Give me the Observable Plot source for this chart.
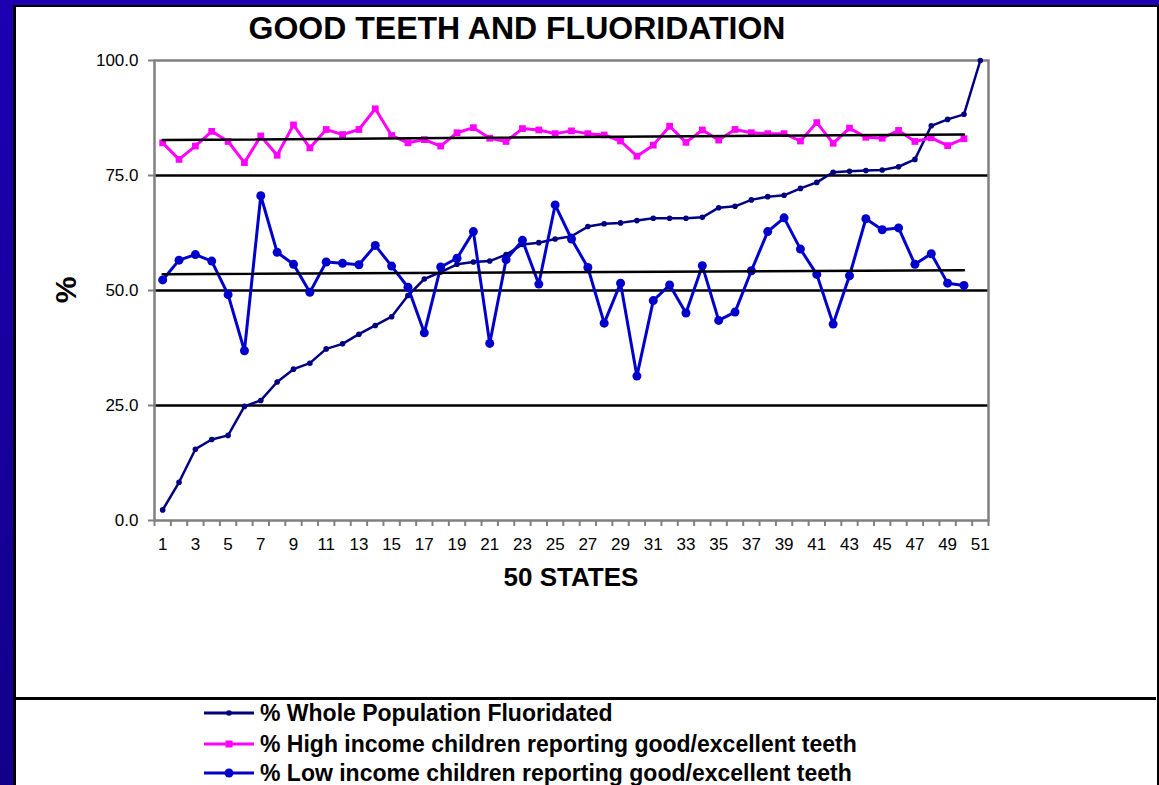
<!DOCTYPE html>
<html>
<head>
<meta charset="utf-8">
<script src="https://cdn.jsdelivr.net/npm/d3@7"></script>
<script src="https://cdn.jsdelivr.net/npm/@observablehq/plot@0.6"></script>
<style>
  html, body { margin: 0; padding: 0; }
  body {
    width: 1159px; height: 785px; overflow: hidden; position: relative;
    background: linear-gradient(to bottom, #1c00b2, #12008a);
    font-family: "Liberation Sans", Arial, sans-serif;
  }
  #panel {
    position: absolute; left: 13px; top: 5px; width: 1141px; height: 800px;
    background: #fff; border: 2px solid #000; border-left-width: 3px;
  }
  .abs { position: absolute; }
  #title { left: 217px; top: 12px; width: 600px; text-align: center; font-weight: bold; font-size: 32px; line-height: 32px; color: #000; white-space: nowrap; }
  #xtitle { left: 471px; top: 564px; width: 200px; text-align: center; font-weight: bold; font-size: 26px; line-height: 26px; color: #000; white-space: nowrap; }
  #ytitle { left: 16px; top: 275px; width: 100px; height: 30px; text-align: center; font-weight: bold; font-size: 30px; line-height: 30px; transform: rotate(-90deg); color: #000; }
  #divider { left: 16px; top: 697px; width: 1140px; height: 3px; background: #000; }
  .legrow { left: 204px; height: 24px; display: flex; align-items: center; }
  .legrow span { font-weight: bold; font-size: 23px; line-height: 24px; color: #000; margin-left: 6px; white-space: nowrap; }
  #chart { left: 16px; top: 40px; }
</style>
</head>
<body>
<div id="panel"></div>
<div id="title" class="abs">GOOD TEETH AND FLUORIDATION</div>
<div id="chart" class="abs"></div>
<div id="xtitle" class="abs">50 STATES</div>
<div id="ytitle" class="abs">%</div>
<div id="divider" class="abs"></div>
<div id="legend"></div>
<script>
// ---- data ----
const states = [1,2,3,4,5,6,7,8,9,10,11,12,13,14,15,16,17,18,19,20,21,22,23,24,25,26,27,28,29,30,31,32,33,34,35,36,37,38,39,40,41,42,43,44,45,46,47,48,49,50,51];
const fluoridated = [2.3,8.3,15.5,17.6,18.5,24.8,26.1,30.1,32.9,34.2,37.3,38.4,40.5,42.4,44.3,48.9,52.5,54.0,55.7,56.2,56.4,57.8,60.0,60.4,61.2,61.8,63.9,64.5,64.7,65.2,65.7,65.7,65.7,65.9,68.0,68.3,69.7,70.4,70.7,72.2,73.5,75.7,75.9,76.1,76.2,76.9,78.5,85.8,87.2,88.3,100.0];
const highIncome = [82.1,78.5,81.4,84.6,82.4,77.8,83.6,79.4,86.0,81.0,85.0,83.9,85.0,89.5,83.7,82.1,82.8,81.4,84.3,85.4,83.1,82.4,85.2,84.9,84.1,84.7,84.1,83.8,82.5,79.2,81.6,85.7,82.2,84.9,82.7,85.0,84.3,84.1,84.1,82.5,86.5,82.0,85.3,83.3,83.1,84.8,82.4,83.2,81.5,83.0];
const lowIncome = [52.3,56.6,57.8,56.4,49.1,36.9,70.6,58.3,55.7,49.6,56.2,55.9,55.6,59.8,55.3,50.7,40.8,55.1,57.0,62.8,38.5,56.7,60.9,51.4,68.6,61.2,55.0,42.9,51.6,31.4,47.8,51.2,45.1,55.4,43.5,45.3,54.3,62.8,65.8,59.0,53.5,42.7,53.2,65.6,63.2,63.6,55.7,58.0,51.6,51.1];
const seriesNames = ["% Whole Population Fluoridated", "% High income children reporting good/excellent teeth", "% Low income children reporting good/excellent teeth"];
const seriesColors = ["#000080", "#ff00ff", "#0000cc"];
const xTickLabels = [1,3,5,7,9,11,13,15,17,19,21,23,25,27,29,31,33,35,37,39,41,43,45,47,49,51];
const yTicks = [0,25,50,75,100];
const gridValues = [25,50,75];

const fluorData = fluoridated.map((v, i) => ({state: states[i], value: v}));
const highData = highIncome.map((v, i) => ({state: states[i], value: v}));
const lowData = lowIncome.map((v, i) => ({state: states[i], value: v}));
const boundaries = states.map(s => s - 0.5).concat([states[states.length - 1] + 0.5]);

const FONT = "'Liberation Sans', Arial, sans-serif";

const chart = Plot.plot({
  width: 1140,
  height: 560,
  marginLeft: 138,
  marginRight: 168,
  marginTop: 20,
  marginBottom: 80,
  style: {fontFamily: FONT, background: "transparent", overflow: "visible"},
  x: {domain: [0.5, 51.5], label: null},
  y: {domain: [0, 100], label: null},
  marks: [
    Plot.ruleY(gridValues, {stroke: "#000", strokeWidth: 2.5}),
    Plot.frame({stroke: "#808080", strokeWidth: 2.5}),
    Plot.axisY({ticks: yTicks, tickFormat: d => d.toFixed(1), tickSize: 6, tickPadding: 10, stroke: "#808080", strokeWidth: 2, fill: "#000", fontSize: 17, label: null}),
    Plot.axisX({ticks: boundaries, tickFormat: () => "", tickSize: 6, stroke: "#808080", strokeWidth: 2, label: null}),
    Plot.axisX({ticks: xTickLabels, tickFormat: d => String(d), tickSize: 0, tickPadding: 17, fill: "#000", fontSize: 17, label: null}),
    // fluoridated
    Plot.line(fluorData, {x: "state", y: "value", stroke: seriesColors[0], strokeWidth: 2.5}),
    Plot.dot(fluorData, {x: "state", y: "value", fill: seriesColors[0], r: 2.8}),
    // high income
    Plot.line(highData, {x: "state", y: "value", stroke: seriesColors[1], strokeWidth: 3}),
    Plot.dot(highData, {x: "state", y: "value", fill: seriesColors[1], symbol: "square", r: 3.8}),
    // low income
    Plot.line(lowData, {x: "state", y: "value", stroke: seriesColors[2], strokeWidth: 3}),
    Plot.dot(lowData, {x: "state", y: "value", fill: seriesColors[2], r: 4.5}),
    // trend lines
    Plot.linearRegressionY(highData, {x: "state", y: "value", stroke: "#000", strokeWidth: 2.5, ci: 0}),
    Plot.linearRegressionY(lowData, {x: "state", y: "value", stroke: "#000", strokeWidth: 2.5, ci: 0})
  ]
});
document.getElementById("chart").appendChild(chart);

// ---- legend ----
const legend = document.getElementById("legend");
const rowTops = [701, 732, 761];
const markerSvg = [
  '<circle cx="25" cy="12" r="2.8" fill="#000080"/>',
  '<rect x="21.5" y="8.5" width="7" height="7" fill="#ff00ff"/>',
  '<circle cx="25" cy="12" r="4.5" fill="#0000cc"/>'
];
seriesNames.forEach((name, i) => {
  const row = document.createElement("div");
  row.className = "abs legrow";
  row.style.top = rowTops[i] + "px";
  row.innerHTML = '<svg width="50" height="24"><line x1="0" x2="50" y1="12" y2="12" stroke="' + seriesColors[i] + '" stroke-width="3"/>' + markerSvg[i] + '</svg><span>' + name + '</span>';
  legend.appendChild(row);
});
</script>
</body>
</html>
